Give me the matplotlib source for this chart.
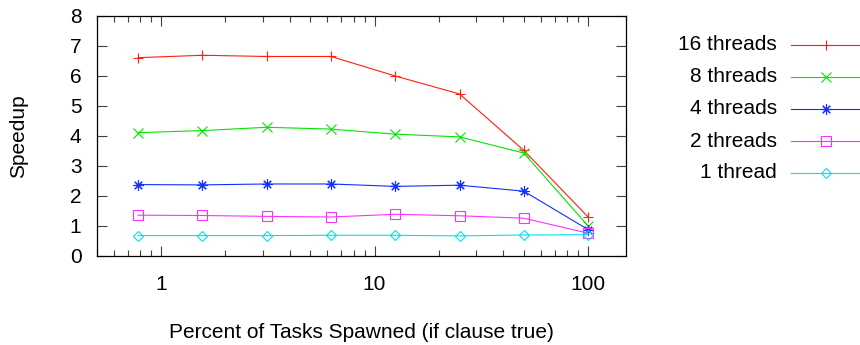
import matplotlib
matplotlib.use("Agg")
import matplotlib.pyplot as plt
from matplotlib.lines import Line2D
from matplotlib.ticker import LogLocator, FixedLocator, NullFormatter

plt.rcParams['font.family'] = ['Liberation Sans', 'DejaVu Sans']

# percent of tasks spawned (if clause true)
percent = [0.78125, 1.5625, 3.125, 6.25, 12.5, 25, 50, 100]

speedup_16 = [6.61, 6.69, 6.65, 6.65, 6.00, 5.40, 3.52, 1.30]
speedup_8 = [4.11, 4.18, 4.29, 4.23, 4.06, 3.97, 3.43, 1.00]
speedup_4 = [2.38, 2.37, 2.40, 2.40, 2.32, 2.36, 2.16, 0.88]
speedup_2 = [1.36, 1.35, 1.32, 1.30, 1.39, 1.34, 1.26, 0.76]
speedup_1 = [0.68, 0.68, 0.68, 0.69, 0.69, 0.67, 0.70, 0.71]

labels = ["16 threads", "8 threads", "4 threads", "2 threads", "1 thread"]
series = [speedup_16, speedup_8, speedup_4, speedup_2, speedup_1]
colors = ["#ff2010", "#00e600", "#1030ff", "#ff30ff", "#00e0ee"]
# gnuplot point types: plus, cross, asterisk, open square, open diamond
markers = ["+", "x", (8, 2, 0), "s", "D"]
msizes = [7.5, 7.2, 7.5, 7.7, 5.0]

FS = 15

fig = plt.figure(figsize=(8.6, 3.45), dpi=100)
ax = fig.add_axes([0.1124, 0.258, 0.6152, 0.6957])

for ys, c, m, ms in zip(series, colors, markers, msizes):
    ax.plot(percent, ys, color=c, lw=0.8, marker=m, ms=ms, mfc='none',
            mec=c, mew=0.8)

ax.set_xscale('log')
ax.set_xlim(0.5, 150)
ax.set_ylim(0, 8)
ax.xaxis.set_major_locator(FixedLocator([1, 10, 100]))
ax.xaxis.set_minor_locator(LogLocator(base=10, subs=range(2, 10)))
ax.xaxis.set_minor_formatter(NullFormatter())
ax.set_xticklabels(["1", "10", "100"])
ax.set_yticks(range(0, 9))

ax.tick_params(which='both', direction='in', top=True, right=True,
               labelsize=FS, width=0.8, color='#404040')
ax.tick_params(which='major', length=7.5)
ax.tick_params(which='minor', length=4)
ax.tick_params(axis='x', pad=14)
ax.tick_params(axis='y', pad=11)
for s in ax.spines.values():
    s.set_linewidth(0.9)

ax.set_ylabel("Speedup", fontsize=FS, va='center')
ax.yaxis.set_label_coords(-0.147, 0.5)
ax.set_xlabel("Percent of Tasks Spawned (if clause true)", fontsize=FS)
ax.xaxis.set_label_coords(0.5, -0.28)

# key on the right: right-aligned text, sample line with point in the middle
W, H = 860.0, 345.0
row_y = [45, 77, 109, 141, 173]
for lab, c, m, ms, y in zip(labels, colors, markers, msizes, row_y):
    yf = 1 - y / H
    fig.text(777 / W, yf, lab, ha='right', va='center', fontsize=FS)
    fig.add_artist(Line2D([791 / W, 860 / W], [yf, yf], color=c, lw=0.8,
                          transform=fig.transFigure))
    fig.add_artist(Line2D([825.5 / W], [yf], color=c, marker=m, ms=ms,
                          mfc='none', mec=c, mew=0.8, lw=0,
                          transform=fig.transFigure))

fig.savefig("out.png", dpi=100)
